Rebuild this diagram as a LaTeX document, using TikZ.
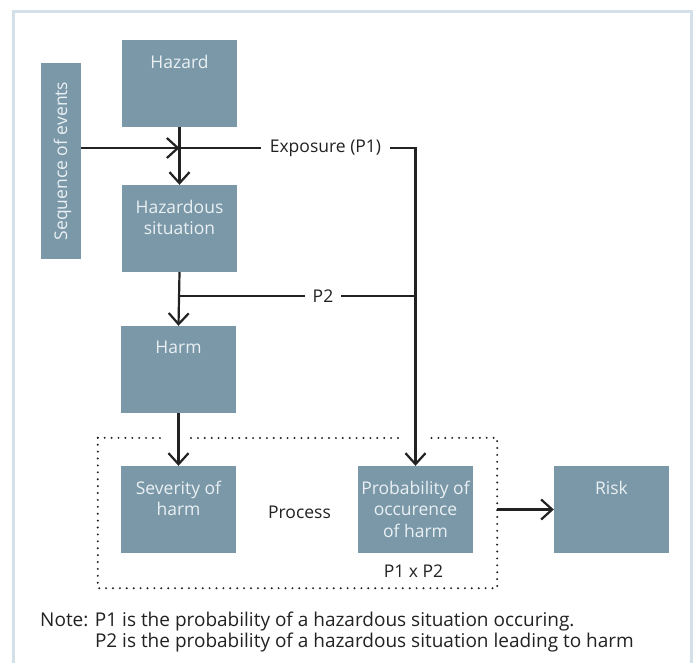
\documentclass[tikz,border=0pt]{standalone}
\usepackage{fontspec}
\setmainfont{Open Sans}
\usetikzlibrary{arrows.meta,positioning}
\definecolor{boxfill}{HTML}{7A98A8}
\definecolor{boxtxt}{HTML}{EAF0F3}
\definecolor{framec}{HTML}{D3E0E7}
\definecolor{ink}{HTML}{222222}
\tikzset{
  box/.style={fill=boxfill, draw=none, minimum width=115pt, minimum height=87pt, inner sep=0pt},
  boxtext/.style={text=boxtxt, font=\fontsize{17.5}{21.5}\selectfont, align=center, anchor=north, inner sep=0pt},
  lbl/.style={text=ink, font=\fontsize{17.5}{21}\selectfont, inner sep=0pt},
  conn/.style={draw=ink, line width=2.2pt},
  arr/.style={conn, -{Straight Barb[length=11pt,width=20pt,line width=2.2pt]}},
  dotline/.style={draw=ink, line width=2.2pt, line cap=round, dash pattern=on 0pt off 6.9pt},
}
\begin{document}
\begin{tikzpicture}[x=1pt,y=-1pt]
\useasboundingbox (0,0) rectangle (694,662);
\fill[white] (0,0) rectangle (694,662);
% frame
\draw[framec, line width=2.6pt] (13.5,663) -- (13.5,11.5) -- (691.5,11.5) -- (691.5,663);
% boxes
\node[box] (hazard) at (179.5,83.5) {};
\node[boxtext] at ([yshift=-15pt]hazard.north) {Hazard};
\node[box, minimum width=40pt, minimum height=196pt] (seq) at (61,161) {};
\node[text=boxtxt, font=\fontsize{17.5}{21}\selectfont, rotate=90, inner sep=0pt] at ([xshift=1.5pt]seq.center) {Sequence of events};
\node[box] (hazsit) at (179.5,228.5) {};
\node[boxtext] at ([yshift=-15pt]hazsit.north) {Hazardous\\situation};
\node[box] (harm) at (178.5,369.5) {};
\node[boxtext] at ([yshift=-15pt]harm.north) {Harm};
\node[box] (sev) at (178.5,509.5) {};
\node[boxtext] at ([yshift=-15pt]sev.north) {Severity of\\harm};
\node[box] (prob) at (415.5,509.5) {};
\node[boxtext] at ([yshift=-15pt]prob.north) {Probability of\\occurence\\of harm};
\node[box] (risk) at (611.5,509.5) {};
\node[boxtext] at ([yshift=-15pt]risk.north) {Risk};
% process region
\node[draw=none, minimum width=399pt, minimum height=150pt, inner sep=0pt] (proc) at (297.5,513) {};
\draw[dotline] (proc.north west) -- (proc.south west) -- (proc.south east) -- (proc.north east) -- (429,438);
\draw[dotline] (proc.north west) -- (160,438);
\draw[dotline] (191,438) -- (400,438);
\node[lbl] (proclbl) at (299.5,512) {Process};
\node[lbl] (p1p2) at (413.5,571) {P1 x P2};
% labels on lines
\node[lbl, inner xsep=9pt] (exp) at (325.5,148) {Exposure (P1)};
\node[lbl, inner xsep=8pt] (p2) at (323,296) {P2};
\coordinate (j1) at (hazard.south |- exp.west);
\coordinate (j2) at (hazsit.south |- p2.west);
\coordinate (j3) at (prob.north |- p2.east);
% connectors
\draw[arr] (hazard.south) -- (hazsit.north);
\draw[arr] (seq.east |- j1) -- (j1);
\draw[conn] (j1) -- (exp.west);
\draw[arr] (exp.east) -| (prob.north);
\draw[arr] (hazsit.south) -- (harm.north);
\draw[conn] (j2) -- (p2.west);
\draw[conn] (p2.east) -- (j3);
\draw[arr] (harm.south) -- (sev.north);
\draw[arr] (proc.east |- risk.west) -- (risk.west);
% note
\node[lbl, anchor=north west, align=left, font=\fontsize{19}{21}\selectfont] (note) at (40,611.5) {Note: P1 is the probability of a hazardous situation occuring.\\\phantom{Note: }P2 is the probability of a hazardous situation leading to harm};
\end{tikzpicture}
\end{document}
